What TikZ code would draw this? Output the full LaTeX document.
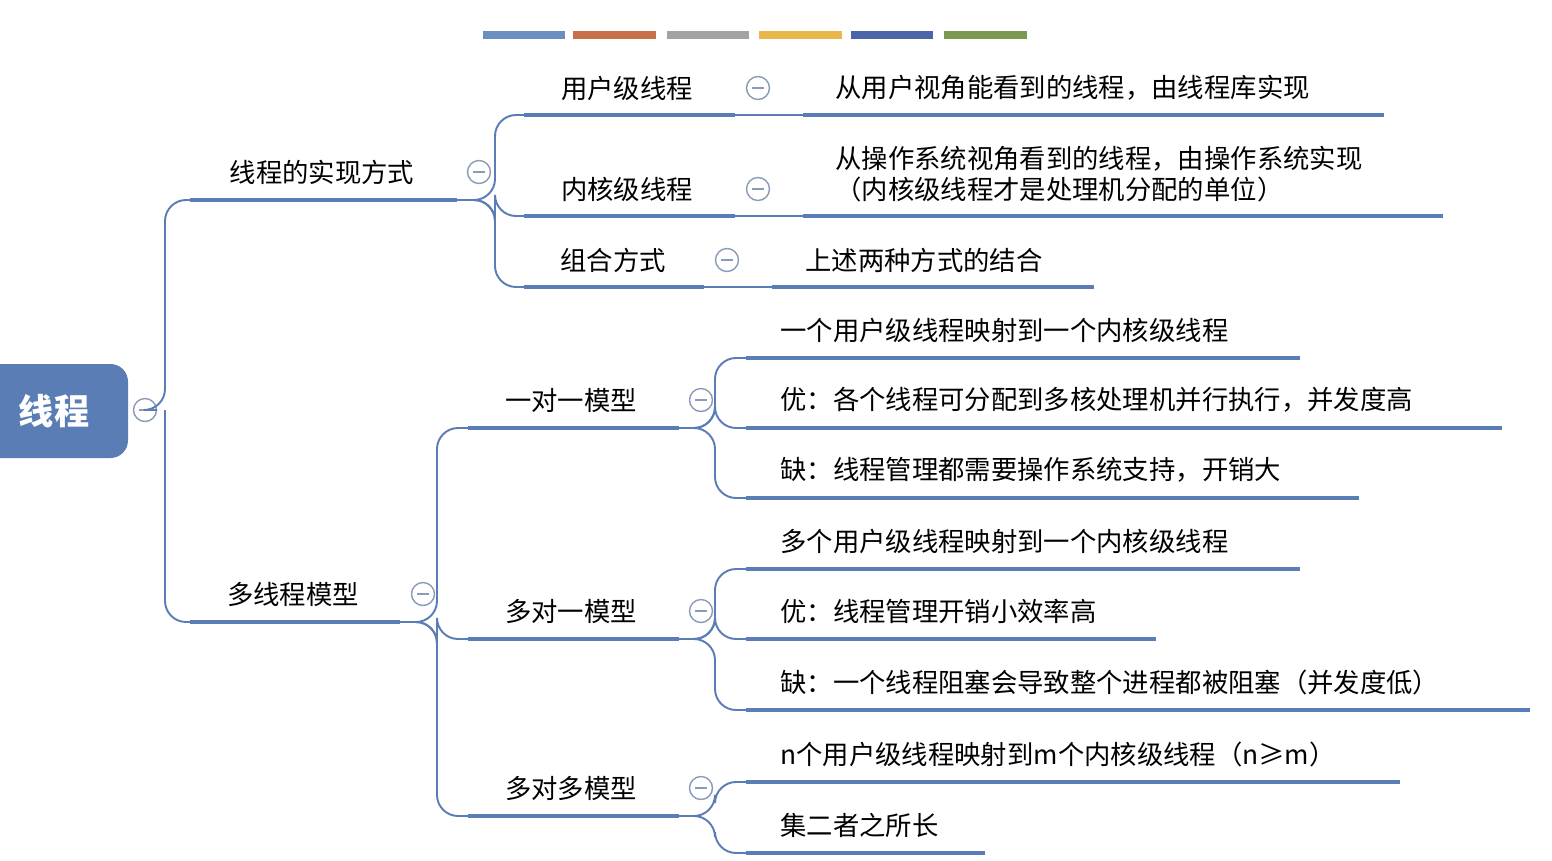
\documentclass[tikz,border=0pt]{standalone}
\usepackage{fontspec}
\setmainfont{Noto Sans CJK SC}
\usetikzlibrary{positioning}
\definecolor{mapblue}{HTML}{5B7DB5}
\definecolor{mapgrey}{HTML}{8A9BB8}
\tikzset{
  uline/.style={draw=mapblue, line width=2.8pt},
  link/.style={draw=mapblue, line width=1.1pt, rounded corners=12pt},
  topic/.style={font=\fontsize{15}{18}\selectfont, inner sep=0pt},
  leaf/.style={font=\fontsize{15}{18}\selectfont, inner sep=0pt, anchor=west, align=left},
  fold/.style={circle, draw=mapgrey, fill=white, line width=0.8pt, minimum size=0.46cm, inner sep=0pt,
    path picture={\draw[mapgrey, line width=0.8pt] ([xshift=-0.12cm]path picture bounding box.center) -- ([xshift=0.12cm]path picture bounding box.center);}},
}
\begin{document}
\begin{tikzpicture}[x=0.02cm, y=-0.02cm]
\useasboundingbox (0,0) rectangle (1552,860);
% colour bars
\foreach \xa/\xb/\c in {483/565/6B8FC0, 573/656/C8704A, 667/749/A3A3A3, 759/842/E8B84A, 851/933/4A66A8, 944/1027/7A9A50}{
  \definecolor{barc}{HTML}{\c}
  \fill[barc] (\xa,31) rectangle (\xb,39);
}
% root
\fill[mapblue, rounded corners=10pt] (-30,364) rectangle (128,458);
\node[font=\fontsize{20}{24}\selectfont\bfseries, text=white] (root) at (54,411) {线程};
\node[fold] (f0) at (145,410) {};
% level 1
\node[topic] (impl) at (322,172) {线程的实现方式};
\draw[uline] (190,200) coordinate (impl-s) -- (457,200) coordinate (impl-e);
\node[fold] (f1) at (479,172) {};
\node[topic] (multi) at (293,594) {多线程模型};
\draw[uline] (190,622) coordinate (multi-s) -- (400,622) coordinate (multi-e);
\node[fold] (f2) at (423,594) {};
\draw[link] (f0) -- (165,410) -- (165,200) -- (impl-s);
\draw[link] (165,410) -- (165,622) -- (multi-s);
% implementation ways
\foreach \nm/\txt/\tx/\ty/\ue in {user/用户级线程/627/88/735, kern/内核级线程/627/189/735, comb/组合方式/613/260/704}{
  \node[topic] (\nm) at (\tx,\ty) {\txt};
  \draw[uline] (524,\ty+27) coordinate (\nm-s) -- (\ue,\ty+27) coordinate (\nm-e);
  \node[fold] (\nm-f) at (\ue+23,\ty) {};
  \draw[link] (impl-e) -- (495,200) -- (495,\ty+27) -- (\nm-s);
}
\draw[uline] (803,115) coordinate (l1-s) -- (1384,115);
\node[leaf] (l1) at (835,88) {从用户视角能看到的线程，由线程库实现};
\draw[uline] (803,216) coordinate (l2-s) -- (1443,216);
\node[leaf] (l2) at (835,174) {从操作系统视角看到的线程，由操作系统实现\\（内核级线程才是处理机分配的单位）};
\draw[uline] (772,287) coordinate (l3-s) -- (1094,287);
\node[leaf] (l3) at (805,260) {上述两种方式的结合};
\draw[mapblue, line width=0.8pt] (user-e) -- (l1-s);
\draw[mapblue, line width=0.8pt] (kern-e) -- (l2-s);
\draw[mapblue, line width=0.8pt] (comb-e) -- (l3-s);
% models
\coordinate (jx) at (715,0);
\foreach \nm/\txt/\ty in {one/一对一模型/400, many/多对一模型/611, mm/多对多模型/788}{
  \node[topic] (\nm) at (571,\ty) {\txt};
  \draw[uline] (468,\ty+28) coordinate (\nm-s) -- (679,\ty+28) coordinate (\nm-e);
  \node[fold] (\nm-f) at (701,\ty) {};
  \draw[link] (multi-e) -- (437,622) -- (437,\ty+28) -- (\nm-s);
}
% model leaves
\foreach \pn/\idx/\txt/\ty/\ue in {
  one/a/一个用户级线程映射到一个内核级线程/330/1300,
  one/b/优：各个线程可分配到多核处理机并行执行，并发度高/400/1502,
  one/c/缺：线程管理都需要操作系统支持，开销大/470/1359,
  many/a/多个用户级线程映射到一个内核级线程/541/1300,
  many/b/优：线程管理开销小效率高/611/1156,
  many/c/缺：一个线程阻塞会导致整个进程都被阻塞（并发度低）/682/1530,
  mm/a/n个用户级线程映射到m个内核级线程（n≥m）/754/1400,
  mm/b/集二者之所长/825/985}{
  \node[leaf] (\pn-\idx) at (780,\ty) {\txt};
  \draw[uline] (746,\ty+28) coordinate (\pn-\idx-s) -- (\ue,\ty+28);
  \draw[link] (\pn-e) -- (jx |- \pn-e) -- (715,\ty+28) -- (\pn-\idx-s);
}
\end{tikzpicture}
\end{document}
